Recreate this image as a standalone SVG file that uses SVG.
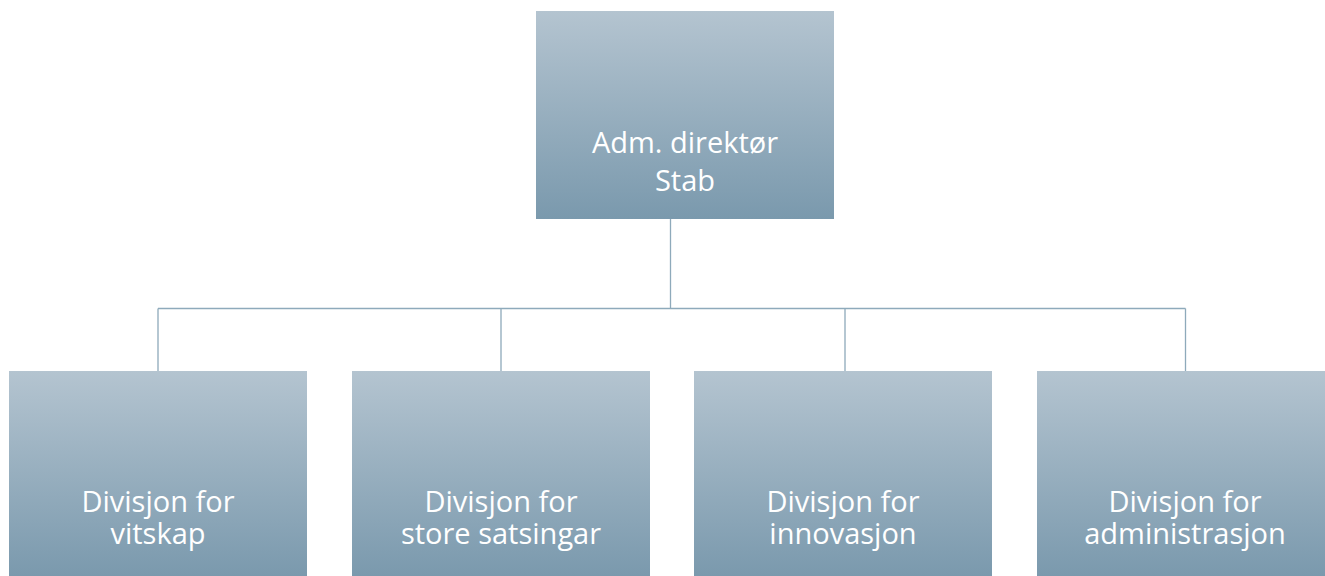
<svg xmlns="http://www.w3.org/2000/svg" width="1325" height="576" viewBox="0 0 1325 576">
<defs>
<linearGradient id="g" x1="0" y1="0" x2="0" y2="1">
<stop offset="0" stop-color="#b4c4d0"/>
<stop offset="1" stop-color="#7a99ad"/>
</linearGradient>
<style>
.box{fill:url(#g)}
.t{font-family:"Open Sans","Noto Sans",sans-serif;font-size:29px;fill:#ffffff;text-anchor:middle}
.c{stroke:#8eaabb;stroke-width:1.3;fill:none}
</style>
</defs>
<rect width="1325" height="576" fill="#ffffff"/>
<g id="connectors">
<path class="c" d="M670.5 219V308.5M158 308.5H1185.5M158 308.5V371M501 308.5V371M845 308.5V371M1185.5 308.5V371"/>
</g>
<g id="n0">
<rect class="box" x="536" y="11" width="298" height="208"/>
<text class="t" x="685" y="153">Adm. direktør</text>
<text class="t" x="685" y="191">Stab</text>
</g>
<g id="n1">
<rect class="box" x="9" y="371" width="298" height="206"/>
<text class="t" x="158" y="512">Divisjon for</text>
<text class="t" x="158" y="544">vitskap</text>
</g>
<g id="n2">
<rect class="box" x="352" y="371" width="298" height="206"/>
<text class="t" x="501" y="512">Divisjon for</text>
<text class="t" x="501" y="544">store satsingar</text>
</g>
<g id="n3">
<rect class="box" x="694" y="371" width="298" height="206"/>
<text class="t" x="843" y="512">Divisjon for</text>
<text class="t" x="843" y="544">innovasjon</text>
</g>
<g id="n4">
<rect class="box" x="1037" y="371" width="298" height="206"/>
<text class="t" x="1185" y="512">Divisjon for</text>
<text class="t" x="1185" y="544">administrasjon</text>
</g>
</svg>
